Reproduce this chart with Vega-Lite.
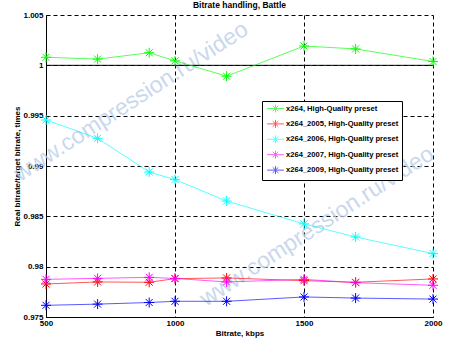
{
  "$schema": "https://vega.github.io/schema/vega-lite/v6.json",
  "autosize": "none",
  "width": 387,
  "height": 302,
  "padding": {"left": 46, "top": 15, "right": 21, "bottom": 40},
  "background": "white",
  "title": {"text": "Bitrate handling, Battle", "font": "Liberation Sans", "fontSize": 8.5, "fontWeight": "bold", "color": "#000", "offset": 2},
  "config": {
    "view": {"stroke": null},
    "font": "Liberation Sans",
    "axis": {
      "domainColor": "#000", "domainWidth": 1,
      "gridColor": "#000", "gridDash": [4, 3], "gridWidth": 1, "gridOpacity": 1,
      "ticks": false, "labelFlush": false,
      "labelFont": "Liberation Sans", "labelFontSize": 8, "labelFontWeight": "bold", "labelColor": "#000",
      "titleFont": "Liberation Sans", "titleFontSize": 8, "titleFontWeight": "bold", "titleColor": "#000"
    }
  },
  "datasets": {
    "perf": [
      {"series": "x264, High-Quality preset", "kbps": 500, "ratio": 1.00080},
      {"series": "x264, High-Quality preset", "kbps": 700, "ratio": 1.00062},
      {"series": "x264, High-Quality preset", "kbps": 900, "ratio": 1.00125},
      {"series": "x264, High-Quality preset", "kbps": 1000, "ratio": 1.00045},
      {"series": "x264, High-Quality preset", "kbps": 1200, "ratio": 0.99892},
      {"series": "x264, High-Quality preset", "kbps": 1500, "ratio": 1.00192},
      {"series": "x264, High-Quality preset", "kbps": 1700, "ratio": 1.00163},
      {"series": "x264, High-Quality preset", "kbps": 2000, "ratio": 1.00038},
      {"series": "x264_2005, High-Quality preset", "kbps": 500, "ratio": 0.97828},
      {"series": "x264_2005, High-Quality preset", "kbps": 700, "ratio": 0.97848},
      {"series": "x264_2005, High-Quality preset", "kbps": 900, "ratio": 0.97845},
      {"series": "x264_2005, High-Quality preset", "kbps": 1000, "ratio": 0.97881},
      {"series": "x264_2005, High-Quality preset", "kbps": 1200, "ratio": 0.97888},
      {"series": "x264_2005, High-Quality preset", "kbps": 1500, "ratio": 0.97861},
      {"series": "x264_2005, High-Quality preset", "kbps": 1700, "ratio": 0.97845},
      {"series": "x264_2005, High-Quality preset", "kbps": 2000, "ratio": 0.97878},
      {"series": "x264_2006, High-Quality preset", "kbps": 500, "ratio": 0.99457},
      {"series": "x264_2006, High-Quality preset", "kbps": 700, "ratio": 0.99275},
      {"series": "x264_2006, High-Quality preset", "kbps": 900, "ratio": 0.98940},
      {"series": "x264_2006, High-Quality preset", "kbps": 1000, "ratio": 0.98865},
      {"series": "x264_2006, High-Quality preset", "kbps": 1200, "ratio": 0.98652},
      {"series": "x264_2006, High-Quality preset", "kbps": 1500, "ratio": 0.98425},
      {"series": "x264_2006, High-Quality preset", "kbps": 1700, "ratio": 0.98295},
      {"series": "x264_2006, High-Quality preset", "kbps": 2000, "ratio": 0.98130},
      {"series": "x264_2007, High-Quality preset", "kbps": 500, "ratio": 0.97874},
      {"series": "x264_2007, High-Quality preset", "kbps": 700, "ratio": 0.97884},
      {"series": "x264_2007, High-Quality preset", "kbps": 900, "ratio": 0.97894},
      {"series": "x264_2007, High-Quality preset", "kbps": 1000, "ratio": 0.97883},
      {"series": "x264_2007, High-Quality preset", "kbps": 1200, "ratio": 0.97848},
      {"series": "x264_2007, High-Quality preset", "kbps": 1500, "ratio": 0.97874},
      {"series": "x264_2007, High-Quality preset", "kbps": 1700, "ratio": 0.97841},
      {"series": "x264_2007, High-Quality preset", "kbps": 2000, "ratio": 0.97815},
      {"series": "x264_2009, High-Quality preset", "kbps": 500, "ratio": 0.97616},
      {"series": "x264_2009, High-Quality preset", "kbps": 700, "ratio": 0.97628},
      {"series": "x264_2009, High-Quality preset", "kbps": 900, "ratio": 0.97644},
      {"series": "x264_2009, High-Quality preset", "kbps": 1000, "ratio": 0.97656},
      {"series": "x264_2009, High-Quality preset", "kbps": 1200, "ratio": 0.97656},
      {"series": "x264_2009, High-Quality preset", "kbps": 1500, "ratio": 0.97699},
      {"series": "x264_2009, High-Quality preset", "kbps": 1700, "ratio": 0.97688},
      {"series": "x264_2009, High-Quality preset", "kbps": 2000, "ratio": 0.97678}
    ],
    "marks": [
      {"label": "www.compression.ru/video", "kbps": 830, "ratio": 0.99640},
      {"label": "www.compression.ru/video", "kbps": 1550, "ratio": 0.98400}
    ],
    "ref": [{"ratio": 1}]
  },
  "layer": [
    {
      "data": {"name": "marks"},
      "mark": {"type": "text", "angle": -33, "align": "center", "baseline": "middle", "fontSize": 23, "font": "Liberation Sans", "color": "#bccfea", "opacity": 0.8},
      "encoding": {
        "x": {"field": "kbps", "type": "quantitative", "scale": {"domain": [500, 2000], "nice": false, "zero": false}},
        "y": {"field": "ratio", "type": "quantitative", "scale": {"domain": [0.975, 1.005], "nice": false, "zero": false}},
        "text": {"field": "label"}
      }
    },
    {
      "data": {"name": "ref"},
      "mark": {"type": "rule", "color": "#000", "strokeWidth": 1},
      "encoding": {"y": {"field": "ratio", "type": "quantitative"}}
    },
    {
      "data": {"name": "perf"},
      "mark": {"type": "line", "strokeWidth": 1, "opacity": 0.65},
      "encoding": {
        "x": {"field": "kbps", "type": "quantitative", "scale": {"domain": [500, 2000], "nice": false, "zero": false},
              "axis": {"values": [500, 1000, 1500, 2000], "format": "d", "title": "Bitrate, kbps", "labelPadding": 2, "titlePadding": 2, "grid": true}},
        "y": {"field": "ratio", "type": "quantitative", "scale": {"domain": [0.975, 1.005], "nice": false, "zero": false},
              "axis": {"values": [0.975, 0.98, 0.985, 0.99, 0.995, 1, 1.005], "labelExpr": "format(datum.value, '.4~g')", "title": "Real bitrate/target bitrate, times", "labelPadding": 3, "titlePadding": 1, "grid": true}},
        "color": {"field": "series", "type": "nominal",
          "scale": {"domain": ["x264, High-Quality preset", "x264_2005, High-Quality preset", "x264_2006, High-Quality preset", "x264_2007, High-Quality preset", "x264_2009, High-Quality preset"],
                    "range": ["#00ff00", "#ff0000", "#00ffff", "#ff00ff", "#0000ff"]},
          "legend": {"title": null, "orient": "none", "legendX": 216, "legendY": 86,
            "symbolType": "M-2.1,0L2.1,0M0,-1L0,1M-0.7,-0.7L0.7,0.7M-0.7,0.7L0.7,-0.7",
            "symbolSize": 64, "symbolStrokeWidth": 1, "symbolFillColor": "transparent",
            "labelFont": "Liberation Sans", "labelFontSize": 7.6, "labelFontWeight": "bold", "labelColor": "#000",
            "labelOffset": 6, "symbolOffset": 6, "rowPadding": 2.4,
            "strokeColor": "#000", "fillColor": "white", "padding": 3}}
      }
    },
    {
      "data": {"name": "perf"},
      "mark": {"type": "point", "shape": "M-1,0L1,0M0,-1L0,1M-0.7,-0.7L0.7,0.7M-0.7,0.7L0.7,-0.7", "filled": false, "size": 100, "strokeWidth": 1, "opacity": 1},
      "encoding": {
        "x": {"field": "kbps", "type": "quantitative"},
        "y": {"field": "ratio", "type": "quantitative"},
        "color": {"field": "series", "type": "nominal"}
      }
    }
  ]
}
